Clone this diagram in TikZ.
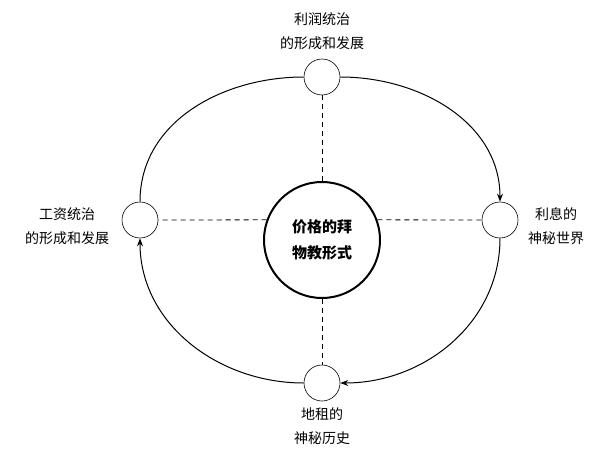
\documentclass[tikz,border=0pt]{standalone}
\usepackage{fontspec}
\setmainfont{Noto Sans CJK SC}
\usetikzlibrary{arrows.meta}
\begin{document}
\begin{tikzpicture}[x=1pt,y=-1pt,
  small/.style={circle,draw,line width=0.6pt,minimum size=36pt,inner sep=0pt},
  lbl/.style={align=center,font=\fontsize{14}{24}\selectfont},
  arc/.style={line width=1pt,-{Stealth[length=8pt,width=6pt]}},
  plain/.style={line width=1pt},
  dashline/.style={line width=0.8pt,dash pattern=on 5pt off 4pt}]
\useasboundingbox (0,0) rectangle (600,463);
\node[circle,draw,line width=2pt,minimum size=116pt,inner sep=0pt,align=center,font=\bfseries\fontsize{15}{26}\selectfont] (c) at (322,240) {价格的拜\\物教形式};
\node[small] (t) at (322,77) {};
\node[small] (r) at (500,220) {};
\node[small] (b) at (322,383) {};
\node[small] (l) at (140,220) {};
\node[lbl] (tl) at (322,31) {利润统治\\的形成和发展};
\node[lbl] (rl) at (556,226) {利息的\\神秘世界};
\node[lbl] (bl) at (322,426) {地租的\\神秘历史};
\node[lbl] (ll) at (67,226) {工资统治\\的形成和发展};
\draw[dashline] (c) -- (t);
\draw[dashline] (c.20) -- (r.west);
\draw[dashline] (c) -- (b);
\draw[dashline] (c.160) -- (l.east);
\draw[arc] (t.east) to[out=0,in=90] (r.north);
\draw[arc] (r.south) to[out=-90,in=0] (b.east);
\draw[arc] (b.west) to[out=180,in=-90] (l.south);
\draw[plain] (l.north) to[out=90,in=180] (t.west);
\end{tikzpicture}
\end{document}
